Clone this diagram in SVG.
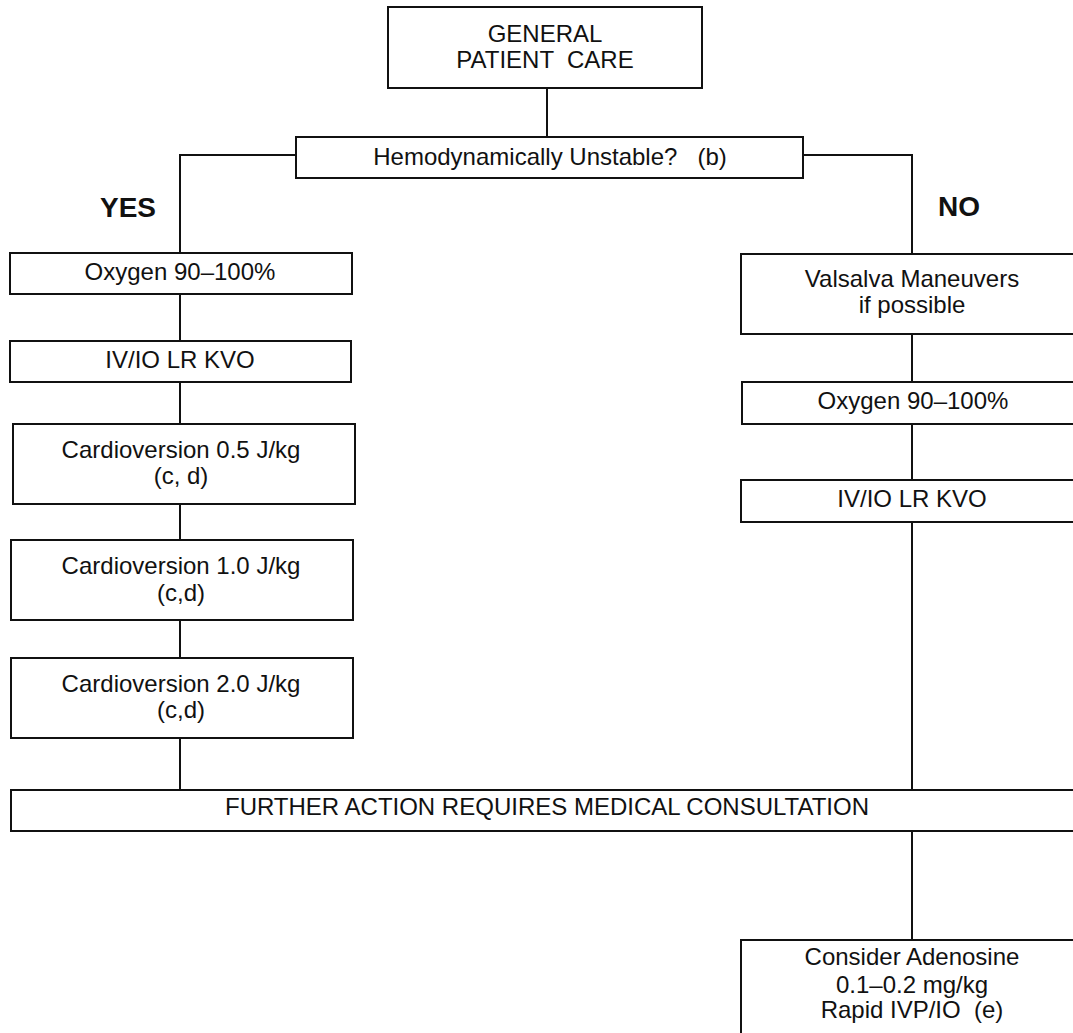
<svg xmlns="http://www.w3.org/2000/svg" width="1073" height="1033" viewBox="0 0 1073 1033">
<style>
  .box { fill: #fff; stroke: #111; stroke-width: 2; }
  .ln { fill: none; stroke: #111; stroke-width: 2; }
  text { font-family: "Liberation Sans", Arial, sans-serif; font-size: 24px; fill: #111; text-anchor: middle; }
  .lbl { font-weight: bold; font-size: 28px; }
</style>
<rect width="1073" height="1033" fill="#fff"/>
<g id="connectors">
  <path class="ln" d="M547 88 V137"/>
  <path class="ln" d="M296 155 H180 V253"/>
  <path class="ln" d="M803 155 H912 V254"/>
  <path class="ln" d="M180 294 V341 M180 382 V424 M180 504 V540 M180 620 V658 M180 738 V790"/>
  <path class="ln" d="M912 334 V382 M912 424 V480 M912 522 V790 M912 831 V940"/>
</g>
<g id="start">
  <rect class="box" x="388" y="7" width="314" height="81"/>
  <text x="545" y="42">GENERAL</text>
  <text x="545" y="68" xml:space="preserve">PATIENT  CARE</text>
</g>
<g id="decision">
  <rect class="box" x="296" y="137" width="507" height="41"/>
  <text x="550" y="165" xml:space="preserve">Hemodynamically Unstable?   (b)</text>
</g>
<g id="yes-label"><text class="lbl" x="128" y="217">YES</text></g>
<g id="no-label"><text class="lbl" x="959" y="216">NO</text></g>
<g id="l-oxygen">
  <rect class="box" x="10" y="253" width="342" height="41"/>
  <text x="180" y="280">Oxygen 90–100%</text>
</g>
<g id="l-iv">
  <rect class="box" x="10" y="341" width="341" height="41"/>
  <text x="180" y="368">IV/IO LR KVO</text>
</g>
<g id="l-cardio05">
  <rect class="box" x="13" y="424" width="342" height="80"/>
  <text x="181" y="458">Cardioversion 0.5 J/kg</text>
  <text x="181" y="484">(c, d)</text>
</g>
<g id="l-cardio10">
  <rect class="box" x="11" y="540" width="342" height="80"/>
  <text x="181" y="574">Cardioversion 1.0 J/kg</text>
  <text x="181" y="601">(c,d)</text>
</g>
<g id="l-cardio20">
  <rect class="box" x="11" y="658" width="342" height="80"/>
  <text x="181" y="692">Cardioversion 2.0 J/kg</text>
  <text x="181" y="718">(c,d)</text>
</g>
<g id="r-valsalva">
  <rect class="box" x="741" y="254" width="345" height="80"/>
  <text x="912" y="287">Valsalva Maneuvers</text>
  <text x="912" y="313">if possible</text>
</g>
<g id="r-oxygen">
  <rect class="box" x="742" y="382" width="345" height="42"/>
  <text x="913" y="409">Oxygen 90–100%</text>
</g>
<g id="r-iv">
  <rect class="box" x="741" y="480" width="345" height="42"/>
  <text x="912" y="507">IV/IO LR KVO</text>
</g>
<g id="consult">
  <rect class="box" x="11" y="790" width="1075" height="41"/>
  <text x="547" y="815">FURTHER ACTION REQUIRES MEDICAL CONSULTATION</text>
</g>
<g id="adenosine">
  <rect class="box" x="741" y="940" width="345" height="110"/>
  <text x="912" y="965">Consider Adenosine</text>
  <text x="912" y="993">0.1–0.2 mg/kg</text>
  <text x="912" y="1018" xml:space="preserve">Rapid IVP/IO  (e)</text>
</g>
</svg>
